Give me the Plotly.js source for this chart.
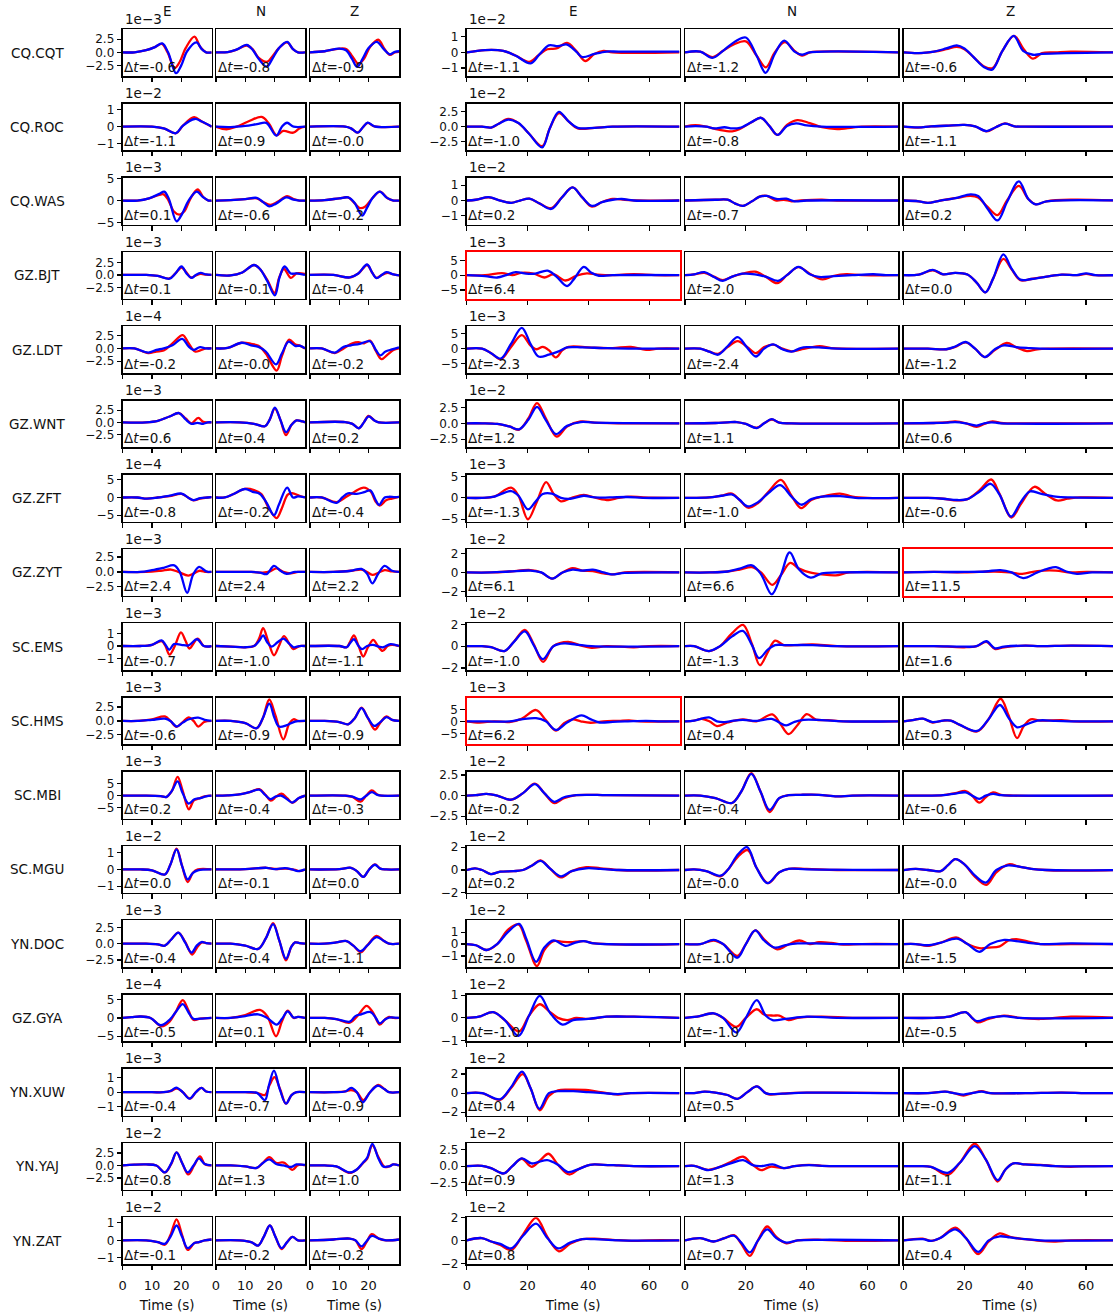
<!DOCTYPE html>
<html>
<head>
<meta charset="utf-8">
<script src="https://cdn.plot.ly/plotly-3.0.1.min.js"></script>
<style>
  html, body { margin: 0; padding: 0; overflow: hidden; background: #fff; }
  #fig { width: 1118px; height: 1315px; }
</style>
</head>
<body>
<div id="fig"></div>
<script>
// Waveform fits: observed (red) vs. synthetic (blue) for each station.
// Each station holds six panels: E, N, Z (short window) then E, N, Z (long window).
// Every panel is a flat list t0,a0,t1,a1,... ; t in seconds, a in units of that
// block's offset (1e-n, shown above the first panel of the block).

const stations = ['CQ.CQT','CQ.ROC','CQ.WAS','GZ.BJT','GZ.LDT','GZ.WNT','GZ.ZFT','GZ.ZYT',
                  'SC.EMS','SC.HMS','SC.MBI','SC.MGU','YN.DOC','GZ.GYA','YN.XUW','YN.YAJ','YN.ZAT'];
const components = ['E','N','Z'];

const obs_CQ_CQT = [
  [0,0, 4,0, 8,0.4, 11,1.0, 13.4,1.6, 15.3,0, 17.8,-3.0, 19.5,-1.8, 21.5,0.8, 24.5,3.0, 26.5,1.0, 28.5,0, 30.4,0],
  [0,0, 4,0.05, 7,0.5, 10.5,1.3, 12.5,0.6, 14.5,-1.0, 17.5,-1.8, 19.5,-0.6, 21.5,0.8, 24.3,1.9, 26.3,0.6, 28,0, 30.4,0],
  [0,0, 5,0.2, 10,0.7, 12.5,0.6, 14.5,-0.8, 16.6,-2.2, 18.5,-1.2, 20.5,1.0, 23.3,2.4, 25.5,0.6, 27.3,-0.5, 29,0, 30.4,0.1],
  [0,0, 6,0.15, 12,0.1, 16,-0.2, 20.5,-0.6, 23.5,-0.2, 26.5,0.2, 29.5,0.25, 33,0.6, 36,0.1, 39,-0.55, 42,-0.1, 45,0.1, 48,0, 70,0],
  [0,0, 5,0.05, 9,-0.3, 12.5,0.1, 16,0.5, 20,0.7, 23.5,-0.2, 26.6,-0.95, 29.5,0, 32.8,0.65, 36,0.1, 38.5,-0.2, 41,0, 44,0.05, 70,0],
  [0,0, 5,-0.05, 10,0.05, 14,0.2, 17.5,0.35, 20,0.2, 23,-0.3, 26.5,-0.9, 29.3,-1.0, 32.5,0.1, 36.3,1.05, 39.5,0.2, 42.5,-0.4, 45.5,-0.05, 50,0, 55,0.05, 70,0]
];
const syn_CQ_CQT = [
  [0,0, 4,0, 8,0.4, 11,1.0, 13.5,1.7, 15.5,0, 18.2,-4.0, 20,-2.5, 22,0.2, 25.2,1.9, 27,0.6, 28.5,0, 30.4,0],
  [0,0, 4,0.05, 7,0.5, 10.5,1.4, 12.5,0.5, 14.5,-1.2, 17.3,-2.75, 19.3,-1.2, 21.5,0.8, 24.3,2.0, 26.3,0.6, 28,0, 30.4,0],
  [0,0, 5,0.2, 10,0.7, 12.3,0.4, 14.3,-1.2, 16.1,-2.8, 18,-1.2, 20,0.8, 22.8,2.0, 25.2,0.6, 27.2,-0.4, 29,0.1, 30.4,0.2],
  [0,0, 6,0.15, 12,0.1, 16,-0.2, 21,-0.7, 24,-0.1, 27,0.45, 30,0.4, 33,0.5, 36,0.05, 38,-0.3, 42,-0.1, 46,0.05, 50,0.05, 70,0.05],
  [0,0, 5,0.05, 9,-0.35, 12.5,0.1, 16.5,0.7, 20,0.95, 23.5,-0.2, 26.5,-1.3, 29.5,-0.1, 32.6,0.75, 36,0.05, 38.5,-0.15, 41,0, 70,0],
  [0,0, 5,-0.05, 10,0.05, 14,0.25, 17.5,0.45, 20,0.25, 23,-0.3, 26.5,-0.95, 29.1,-1.1, 32.5,0.1, 36.2,1.05, 39.3,0.1, 42.5,-0.15, 45.5,-0.1, 70,0]
];

const obs_CQ_ROC = [
  [0,0, 10,0, 14,-0.1, 18.2,-0.38, 20.5,0.05, 24.4,0.55, 27,0.3, 30.4,0],
  [0,0, 3.6,-0.15, 7,0, 11,0.3, 15.6,0.57, 18,0.2, 20.7,-0.5, 23,-0.25, 26.4,-0.35, 28.5,-0.1, 30.4,0],
  [0,0, 12,0, 14,-0.1, 16.3,-0.35, 18,-0.05, 19.7,0.22, 22,0.02, 30.4,0],
  [0,0, 5,0, 8,-0.15, 10.5,0.5, 13.6,1.3, 17,0.6, 20.5,-1.2, 24.8,-3.3, 27.3,-0.3, 30.3,2.3, 33.5,0.9, 36.5,-0.3, 42,-0.2, 48,0, 70,0],
  [0,0, 3.4,0.25, 7,0, 11,-0.5, 15.5,-0.8, 18,-0.4, 22,0.8, 25,1.5, 27.6,0.2, 30.4,-1.4, 33.5,0.3, 36.9,1.1, 41,0.6, 45,-0.1, 50,-0.4, 55,-0.15, 58,0, 70,0],
  [0,0, 4.8,-0.15, 9,0.05, 14,0.15, 20,0.3, 23.5,0.05, 27.3,-0.8, 30.3,-0.1, 33.3,0.55, 36.5,0.05, 40,0, 70,0]
];
const syn_CQ_ROC = [
  [0,0, 10,0, 14,-0.1, 18.2,-0.38, 20.5,0.05, 24.6,0.45, 27,0.3, 30.4,0],
  [0,0, 5,-0.02, 10,0.05, 14,0.15, 17.2,0.22, 20.6,-0.52, 22.5,0, 24.3,0.23, 26.5,0, 30.4,0],
  [0,0, 12,0, 14,-0.1, 16.3,-0.35, 18,-0.05, 19.7,0.24, 22,0.02, 30.4,0],
  [0,0, 5,0, 8,-0.15, 10.5,0.5, 13.6,1.2, 17,0.6, 20.5,-1.2, 24.8,-3.5, 27.3,-0.3, 30.3,2.5, 33.5,0.9, 36.5,-0.2, 42,-0.2, 48,0, 70,0],
  [0,0, 3.4,0.1, 7,0, 9.5,-0.3, 13,-0.1, 15.5,-0.3, 18,-0.2, 22,0.8, 25,1.5, 27.6,0.2, 30.4,-1.4, 33.5,0.1, 36.5,0.55, 40,0.2, 45,0, 70,0],
  [0,0, 4.8,-0.12, 9,0.05, 14,0.15, 20,0.3, 23.5,0.05, 27.3,-0.75, 30.3,-0.1, 33.3,0.5, 36.5,0.05, 40,0, 70,0]
];

const obs_CQ_WAS = [
  [0,0, 5,0, 9,0.5, 12.5,1.3, 14,1.4, 15.5,0.2, 17.5,-2.5, 19.3,-3.2, 21,-2.5, 23.2,0.5, 25.6,2.5, 27.5,0.8, 29.3,0, 30.4,0],
  [0,0, 5,0.1, 10,0.3, 13.9,0.5, 16,-0.3, 18.6,-1.0, 21,-0.3, 24.3,1.0, 26.5,0.3, 28.5,0, 30.4,0],
  [0,0, 5,0.1, 10,0.5, 13,0.7, 14.8,-0.3, 17,-1.7, 18.8,-1.4, 21,0.3, 23.9,2.0, 26.5,0.5, 28.5,0, 30.4,0],
  [0,0, 3,0.05, 7.2,0.2, 11,0, 14.6,-0.15, 17.5,0, 20.6,0.12, 24,-0.2, 27.8,-0.5, 31.3,0.2, 34.8,0.85, 38,0.2, 41.2,-0.4, 44.5,-0.1, 48,0.1, 52,0.05, 56,0, 70,0],
  [0,0, 10,0.05, 14,0.05, 16.5,-0.2, 19.1,-0.35, 22,-0.05, 24.5,0.25, 26.9,0.3, 30,0, 32.5,0.05, 35,-0.05, 38,0, 45,0.05, 50,0, 70,0],
  [0,0, 5,-0.05, 8,-0.15, 12,0, 17,0.15, 22,0.3, 24.5,0.2, 27.5,-0.4, 30.9,-0.95, 34,0, 37.9,0.95, 41,0.1, 43.5,-0.25, 47,-0.05, 55,0.05, 70,0]
];
const syn_CQ_WAS = [
  [0,0, 5,0, 9,0.5, 12.5,1.5, 14.2,2.0, 15.8,0.3, 18.4,-4.7, 20.3,-3.0, 22.5,0, 25.3,2.0, 27.4,0.8, 29.3,0, 30.4,0],
  [0,0, 5,0.1, 10,0.3, 13.9,0.6, 16,-0.3, 18.2,-1.3, 20.5,-0.7, 24,0.7, 26.5,0.2, 28.5,0, 30.4,0],
  [0,0, 5,0.1, 10,0.5, 13,0.7, 15.2,-0.5, 17.8,-3.4, 19.5,-1.6, 21.3,0.5, 23.8,2.0, 26.3,0.6, 28.5,0, 30.4,0],
  [0,0, 3,0.05, 7.2,0.22, 11,0, 14.6,-0.15, 17.5,0, 20.6,0.12, 24,-0.2, 27.8,-0.55, 31.3,0.2, 34.8,0.85, 38,0.2, 41.2,-0.35, 44.5,-0.1, 48,0.05, 51,0.1, 55,0, 70,0],
  [0,0, 10,0.05, 14,0.05, 16.5,-0.2, 19.1,-0.35, 22,-0.05, 24.5,0.25, 26.9,0.3, 30,0.1, 33.3,0.12, 36,-0.05, 40,0, 70,0],
  [0,0, 5,-0.05, 8,-0.15, 12,0, 17,0.15, 22,0.4, 24.5,0.3, 27.5,-0.5, 30.9,-1.3, 34,-0.1, 37.9,1.25, 41,0.1, 43.5,-0.25, 47,-0.05, 70,0]
];

const obs_GZ_BJT = [
  [0,0, 8,0, 12,-0.2, 16,-0.7, 18,0.3, 20.1,1.5, 21.8,0.5, 23.3,-0.5, 25,-0.1, 26.6,0.2, 28.5,0.05, 30.4,0],
  [0,0, 5,-0.1, 9,0.5, 13,2.0, 15,1.2, 17.5,-1.0, 20,-3.6, 21.6,-0.5, 23.2,1.2, 25.6,-0.6, 27.5,0.3, 30.4,0.2],
  [0,0, 8,0, 13.6,-0.5, 16.5,0.3, 19.5,2.0, 21.2,0.5, 22.7,-0.6, 24.5,0, 26.5,0.4, 28.5,0.1, 30.4,-0.1],
  [0,0, 6,0, 11.6,0.7, 15,0, 18,0.8, 22,0.5, 25.5,-0.8, 28.5,0.3, 32.5,-1.8, 36,-0.2, 39.5,0.6, 43,0.2, 48,0, 55,0.3, 62,0, 70,0],
  [0,0, 3,0.3, 6.4,0.8, 9.5,-0.5, 12.4,-1.7, 15.5,-0.5, 19,0.5, 23,1.2, 26.5,-0.5, 30.3,-2.7, 33.5,0, 37.3,2.7, 41,0.5, 45.2,-1.4, 49,-0.2, 53,0.3, 58,0, 70,0],
  [0,0, 5,0.2, 9.6,1.6, 13,0.3, 17,0.8, 21,0.2, 24,-2.5, 26.9,-5.8, 29.5,-1.0, 32.8,5.5, 35.5,2.0, 38.4,-1.7, 42,-1.3, 47,-0.5, 52,0.2, 57,0, 60,0.4, 63,0, 70,0]
];
const syn_GZ_BJT = [
  [0,0, 8,0, 12,-0.2, 16,-0.75, 18,0.3, 20.1,1.7, 21.8,0.3, 23.5,-0.6, 25,0, 26.6,0.4, 28.5,0.1, 30.4,0],
  [0,0, 5,-0.1, 9,0.5, 13,2.0, 15,1.2, 17.5,-1.2, 20.1,-4.1, 21.7,-0.5, 23.4,1.7, 25.5,0.3, 27.5,0.3, 30.4,0],
  [0,0, 8,0, 13.6,-0.5, 16.5,0.3, 19.5,2.1, 21.2,0.5, 22.7,-0.65, 24.5,0, 26.1,0.55, 28.5,0.1, 30.4,-0.1],
  [0,0, 6,-0.3, 10,-0.8, 13,0, 16.1,1.0, 19.5,0.5, 22.5,0.5, 26.6,1.5, 29.5,-0.5, 33,-3.7, 35.5,-1.0, 38.5,2.8, 41,0.8, 43.5,-0.2, 48,0, 70,0],
  [0,0, 3,0.3, 6.4,1.0, 9.5,-0.6, 12.4,-1.9, 15.5,-0.5, 19,0.5, 23,0.3, 26.5,-0.5, 30.6,-1.9, 33.5,0, 37.3,2.8, 41,0.3, 44,-0.6, 49,-0.3, 55,0, 62,0.3, 66,0, 70,0],
  [0,0, 5,0.2, 9.6,1.8, 13,0.3, 17,0.8, 21,0.2, 24,-2.5, 26.9,-5.8, 29.5,-1.0, 32.8,7.0, 35.5,2.2, 38.4,-1.5, 42,-1.3, 47,-0.5, 52,0.2, 57,0, 60,0.6, 63,0, 70,0]
];

const obs_GZ_LDT = [
  [0,0, 4,0, 8.7,-0.9, 11.5,-0.6, 14,-0.4, 17,1.0, 20.5,2.6, 22.5,1.0, 24.7,-0.6, 26.5,-0.4, 28.5,0, 30.4,0],
  [0,0, 4,0.1, 8.8,1.1, 12,0.9, 14.5,0.5, 17,-1.0, 20.7,-4.3, 22.5,-1.5, 25,1.7, 27,0.8, 28.8,0.5, 30.4,0],
  [0,0, 4,0, 8.5,-0.9, 11.5,0, 14.5,1.0, 16.5,1.2, 18.5,1.0, 20.5,1.5, 22.5,-0.5, 24.4,-2.1, 26.5,-1.2, 28.5,-0.3, 30.4,0],
  [0,0, 5,0, 8,-1.5, 11.2,-3.5, 14.5,0.5, 18.1,4.5, 21,1.0, 23,-0.2, 25,0.6, 27,-0.5, 29.3,-2.9, 31.5,-0.5, 33.5,0.6, 38,0.6, 42,0.3, 48,0.2, 54,0.6, 59,-0.4, 63,0, 70,0],
  [0,0, 5,0, 8,-1.0, 10.9,-1.7, 14,0.5, 17.3,2.5, 20.5,0.5, 23.3,-1.5, 26,0.5, 29,1.3, 32,0, 35,-0.9, 38,-0.3, 41,0.3, 44.3,0.8, 48,0.2, 52,0, 70,0],
  [0,0, 8,0, 14,-0.2, 17,0.6, 20.4,2.1, 23.5,0, 26.7,-2.8, 30,-0.5, 33.9,1.9, 37,0.5, 40.6,-0.8, 44,-0.2, 48,0, 70,0]
];
const syn_GZ_LDT = [
  [0,0, 4,0, 8.7,-0.8, 11.5,-0.3, 14,0, 17,0.6, 20.3,1.85, 22.5,0.4, 24.2,-0.3, 26.4,0.25, 28.5,0, 30.4,0],
  [0,0, 4,0.1, 8.8,1.1, 12,0.6, 14.5,0.3, 17,-0.6, 20.5,-3.1, 22.5,-1.0, 24.8,1.3, 27,0.5, 28.8,0.5, 30.4,0],
  [0,0, 4,0, 8.5,-0.8, 11.5,0.3, 14,0.6, 17,0.9, 20.5,1.4, 22.5,-0.3, 24,-1.35, 25.8,-0.6, 28,-0.2, 30.4,0.2],
  [0,0, 5,0, 8,-1.5, 11.2,-3.3, 14.5,1.5, 18.1,6.9, 21,1.5, 23.6,-2.6, 27,-2.0, 30,-1.0, 33,0.4, 38,0.4, 45,0.2, 55,0, 70,0],
  [0,0, 5,0, 8,-1.0, 10.9,-2.0, 14,0.8, 17.3,3.8, 20.3,0.5, 23.3,-2.6, 26,0, 29,1.4, 32,-0.2, 35,-1.0, 38,0.2, 40,0.5, 44,0.4, 50,0, 70,0],
  [0,0, 8,0, 14,-0.2, 17,0.7, 20.4,2.2, 23.5,0, 26.7,-2.8, 30,-0.2, 33,1.1, 37,0.5, 41,0.2, 45,0, 70,0]
];

const obs_GZ_WNT = [
  [0,0, 8,0, 12,0.3, 16,1.2, 19.2,1.9, 21.5,0.8, 23.5,-0.2, 25.8,0.9, 27.5,0.1, 29,0, 30.4,0],
  [0,0, 8,0, 13,-0.3, 16.7,-0.8, 18.3,0.5, 20.1,2.8, 22,0.5, 23.9,-2.6, 25.8,-0.5, 27.5,0.4, 29.5,0.2, 30.4,0],
  [0,0, 12,0.05, 14.5,-0.3, 16.7,-1.2, 18.4,0, 20,1.3, 22,0.4, 23.5,0, 30.4,0],
  [0,0, 5,0, 10,-0.1, 14,-0.5, 17.2,-1.0, 20.3,0.8, 23.1,3.2, 26,0.8, 29.6,-2.1, 33,-0.5, 37.5,0.3, 42,0.1, 50,0, 70,0],
  [0,0, 10,0.05, 14,0.15, 17,0.2, 20,-0.1, 23.6,-0.7, 26,0, 28.5,0.6, 31,0.1, 35,0, 70,0],
  [0,0, 10,0.05, 14,0.15, 17,0.3, 20.5,0, 24,-0.55, 26.5,-0.1, 29.2,0.3, 32,0.05, 35,0, 70,0]
];
const syn_GZ_WNT = [
  [0,0, 8,0, 12,0.3, 16,1.2, 19.2,1.9, 21.5,0.6, 23.5,-0.3, 25.5,-0.1, 27.5,-0.3, 29,0, 30.4,0],
  [0,0, 8,0, 13,-0.3, 16.7,-0.8, 18.3,0.5, 20.1,3.0, 22,0.5, 23.9,-2.0, 25.8,-0.5, 27.5,0.4, 29.5,0.2, 30.4,0],
  [0,0, 12,0.05, 14.5,-0.3, 16.7,-1.2, 18.4,0, 20,1.2, 22,0.4, 23.5,0, 30.4,0],
  [0,0, 5,0, 10,-0.1, 14,-0.5, 17.2,-0.95, 20.3,0.6, 23.1,2.6, 26,0.5, 29.4,-1.7, 33,-0.4, 37.5,0.2, 42,0.1, 70,0],
  [0,0, 10,0.05, 14,0.15, 17,0.2, 20,-0.1, 23.6,-0.75, 26,0, 28.5,0.65, 31,0.1, 35,0, 70,0],
  [0,0, 10,0.05, 14,0.1, 17,0.2, 20.5,0, 24,-0.35, 26.5,0, 29,0.15, 32,0, 70,0]
];

const obs_GZ_ZFT = [
  [0,0, 5,0, 8.2,-0.3, 12,0, 16,0.4, 20.1,1.0, 22.3,0, 24.1,-0.8, 26.5,-0.3, 29,0, 30.4,0.1],
  [0,0, 3,0, 6,1.0, 9.9,2.45, 13,2.1, 15.5,1.0, 18,-3.0, 20.7,-5.8, 22.5,-3.0, 24.5,0.8, 26,1.2, 28.5,0.5, 30.4,0],
  [0,0, 4,0, 9.1,-1.3, 12,0, 15,1.5, 18.4,2.8, 20.8,1.6, 22.3,-1.0, 23.8,-2.3, 26,-0.8, 28,-0.3, 30.4,0.2],
  [0,0, 5,0, 9,0.3, 14.6,2.4, 17,0.5, 20.1,-5.0, 23,-1.0, 26.1,3.7, 28.5,1.0, 31,-0.8, 34.5,0, 38.5,0.7, 42.5,0, 46.7,-0.5, 50,0, 54,0.3, 58,0.1, 70,0],
  [0,0, 8,0.1, 12,0.5, 15.4,1.0, 18,-0.5, 20.8,-2.3, 24,-1.2, 27.5,1.5, 31.5,4.2, 35,0.5, 38.2,-2.4, 41.5,-0.5, 45,0.3, 50.9,1.0, 55,0.3, 60,0, 70,0],
  [0,0, 8,0, 13,-0.2, 17.6,-0.6, 21,-0.3, 25,1.8, 28.8,4.3, 31.5,1.0, 35.5,-4.6, 38.5,-1.5, 43,2.6, 46.5,1.0, 50.4,-0.6, 54,-0.2, 58,0.1, 70,0]
];
const syn_GZ_ZFT = [
  [0,0, 5,0, 8.2,-0.3, 12,0, 16,0.5, 20.1,1.1, 22.3,0, 24.1,-0.75, 26.5,-0.2, 29,0, 30.4,0.1],
  [0,0, 3,0, 6,1.0, 9.9,2.4, 12.5,1.6, 15,1.0, 17.3,-1.5, 19.8,-5.0, 21.5,-2.0, 24.3,2.8, 26.3,0, 28,0.3, 30.4,0],
  [0,0, 4,0, 9.1,-1.5, 11,0, 13,1.2, 16,1.0, 18.5,1.5, 20.6,2.0, 22.3,-0.5, 23.6,-2.1, 25.5,0, 27,0.2, 29,0.1, 30.4,0.2],
  [0,0, 5,0, 9,0.3, 14.6,1.6, 17,0.5, 20.1,-2.7, 22.5,-1.0, 25,0.9, 28,1.0, 31,0, 34,-0.2, 38.5,0.5, 42,0.1, 47,0.1, 53,0.2, 58,0, 70,0],
  [0,0, 8,0.1, 12,0.5, 15.4,0.8, 18,-0.5, 20.6,-2.0, 24,-1.0, 27.5,1.2, 31.3,3.0, 35,0.3, 38.2,-1.6, 41.5,-0.3, 45,0.3, 51,0.4, 56,0, 70,0],
  [0,0, 8,0, 13,-0.2, 17.6,-0.5, 21,-0.3, 25,1.5, 28.6,3.3, 31.5,0.8, 35.3,-4.4, 38.5,-1.0, 41.5,1.5, 45,1.0, 50,0.3, 55,0.1, 70,0]
];

const obs_GZ_ZYT = [
  [0,0, 8,0, 13,0.2, 16.5,0.4, 19,0, 22.4,-0.6, 24.5,-0.2, 26.3,0.2, 28.5,0, 30.4,0],
  [0,0, 12,0, 16,-0.1, 18.5,0.1, 20.7,0.6, 23,0, 25.5,-0.25, 28,0, 30.4,0],
  [0,0, 8,0, 14,0.2, 17.6,0.4, 19.5,0, 21.3,-0.5, 23.5,-0.1, 25.5,0.3, 28,0.1, 30.4,0],
  [0,0, 8,0, 14,0.1, 21,0.25, 24.5,0, 28.1,-0.65, 31.5,0, 34.8,0.45, 38,0.2, 41.5,0.15, 45,-0.1, 48,-0.2, 52,0, 70,0],
  [0,0, 8,0, 14,0.1, 18,0.3, 22,0.55, 25,0, 28.7,-1.3, 31.5,-0.3, 34.6,1.0, 37.5,0.4, 41,0, 45,-0.2, 49.6,-0.3, 54,0, 70,0],
  [0,0, 10,0.05, 20,0, 30,0.1, 35,0, 39,-0.15, 44,0.15, 50,0.2, 55,0, 60,0.05, 70,0]
];
const syn_GZ_ZYT = [
  [0,0, 6,0, 10,0.3, 14,0.7, 17.6,1.1, 19.5,0, 22,-3.5, 24,-0.5, 26.1,0.85, 28.5,0.1, 30.4,0],
  [0,0, 12,0, 15,-0.1, 17.3,-0.35, 19.8,1.0, 22,0.2, 24.1,-0.3, 27,0, 30.4,0],
  [0,0, 8,0, 14,0.2, 17.6,0.5, 19.5,-0.3, 21.3,-1.9, 23.3,-0.3, 25.5,1.0, 28,0.2, 30.4,0],
  [0,0, 8,0, 14,0.1, 21,0.2, 24.5,0, 28.1,-0.65, 31.5,0, 34.8,0.3, 38,0.2, 41.5,0.3, 45,0, 47.5,-0.2, 52,-0.05, 70,0],
  [0,0, 8,0, 14,0.1, 18,0.4, 22,0.75, 25,-0.2, 28.5,-2.3, 31.5,-0.3, 34.4,2.1, 37.5,0.3, 41.3,-0.55, 45,-0.1, 50,0, 70,0],
  [0,0, 10,0.05, 20,0.05, 27,0.1, 31.8,0.25, 35.5,0, 39.3,-0.6, 44,0, 47.5,0.4, 50.1,0.55, 53.5,0.1, 57,-0.15, 62,0, 70,0]
];

const obs_SC_EMS = [
  [0,0, 6,0, 10,0.1, 13.3,0.4, 14.6,0, 16,-0.7, 17.8,0, 19.9,1.1, 21.5,0.4, 22.8,-0.2, 25.6,0.6, 27.7,0, 30.4,0],
  [0,0, 5,-0.05, 10,-0.1, 13,0, 14.7,0.6, 16.1,1.45, 17.8,0.4, 19.8,-0.75, 21.5,0, 23.2,0.8, 25,0.2, 26.4,-0.25, 28.5,0, 30.4,0],
  [0,0, 10,0, 12.5,-0.1, 13.6,0.3, 15,0.85, 16.6,0, 18.2,-0.85, 19.8,-0.1, 21.6,0.5, 23.2,0, 24.8,-0.4, 26.5,0, 28,0.1, 30.4,0],
  [0,0, 5,0, 8,-0.1, 12.4,-0.45, 15.5,0.4, 19.1,1.5, 22,0.2, 25.1,-1.45, 28.5,0, 33.3,0.4, 37,0.1, 41,-0.15, 46,0, 55,-0.1, 60,0, 70,0],
  [0,0, 3,0, 7.9,-0.45, 11.5,0, 15.5,1.2, 19.1,1.95, 22,0.2, 24.6,-1.75, 27.3,-0.5, 29.6,0.5, 32.5,0.1, 36,0.1, 42,0.15, 50,0, 70,0],
  [0,0, 10,0, 20,-0.1, 24,0, 27.2,0.4, 30,-0.25, 33,-0.1, 40,0.05, 45,0, 55,0.05, 70,0]
];
const syn_SC_EMS = [
  [0,0, 6,0, 10,0.1, 13.3,0.45, 14.6,0.1, 15.9,-0.3, 17.5,0.15, 20,0.1, 22.5,0.05, 25.4,0.55, 27.7,0, 30.4,0],
  [0,0, 5,-0.05, 10,-0.1, 13,0, 14.7,0.4, 16.1,0.85, 17.5,0.3, 19,-0.05, 21,0.3, 23,0.6, 25,0.2, 26.5,-0.1, 28.5,0, 30.4,0],
  [0,0, 10,0, 12.5,-0.1, 13.6,0.2, 15,0.55, 16.6,0, 17.8,-0.25, 19.5,0, 21.5,0.1, 23.5,-0.05, 25,-0.1, 27.5,0.15, 30.4,0],
  [0,0, 5,0, 8,-0.1, 12.4,-0.45, 15.5,0.4, 19.1,1.35, 22,0.1, 25,-1.2, 28.5,0, 32,0.25, 36,0.15, 41,0, 50,-0.05, 70,0],
  [0,0, 3,0, 7.9,-0.45, 11.5,0, 15.5,0.9, 19,1.4, 22,0.1, 24.3,-1.1, 27.3,-0.3, 29.6,0.1, 33,0.1, 42,0.1, 50,0, 70,0],
  [0,0, 10,0, 20,-0.05, 24,0, 27.2,0.45, 30,-0.2, 33,-0.05, 40,0.05, 45,0, 55,0.05, 70,0]
];

const obs_SC_HMS = [
  [0,0, 5,0, 10,0.3, 14.4,0.8, 16.3,0, 18.4,-1.05, 20.5,-0.2, 22.6,0.65, 24.2,0, 25.8,-1.0, 27.8,-0.2, 30.4,0],
  [0,0, 5,0, 10,-0.4, 13.9,-1.3, 16,0.5, 18.2,3.85, 20.3,1.0, 23,-3.3, 25,-0.5, 26.5,0.3, 28,0, 30.4,0],
  [0,0, 5,0, 10,-0.2, 13,-0.6, 15.3,0.5, 17.6,2.4, 19.8,0.5, 22.2,-1.55, 24,-0.3, 26.1,0.8, 28,0.2, 30.4,0],
  [0,0, 4.2,-0.5, 9,0, 14,-0.3, 18,1.0, 22.8,4.7, 26,0.5, 29.3,-3.9, 32,-0.8, 34.8,0.8, 37.5,0, 40.7,-0.6, 45,0, 50,0.2, 53.4,0.4, 57,0, 70,0],
  [0,0, 3,0.3, 5.5,1.0, 8,0, 10.5,-2.0, 14,-0.5, 19,0.8, 23.5,0, 28.7,2.9, 31.3,-1.0, 34,-5.3, 37,-1.5, 40,3.0, 43,0.7, 47,0.5, 52,0, 70,0],
  [0,0, 3,0.5, 6.3,1.1, 9.5,-0.5, 13,0.3, 15.5,0.3, 18.5,-1.5, 24.2,-4.2, 28,1.0, 31.9,9.4, 34.5,2.5, 37.3,-7.0, 39.5,-2.0, 41.8,0.8, 45,0.3, 52,0.5, 56,0, 70,0]
];
const syn_SC_HMS = [
  [0,0, 5,0, 10,0.2, 14.4,0.4, 16.3,0, 18.4,-1.0, 20.5,-0.3, 22.6,0.3, 25.8,0.6, 28,0.2, 30.4,0],
  [0,0, 5,0, 10,-0.4, 13.9,-1.3, 16,0.5, 18.2,3.1, 20,0.5, 21.5,-1.0, 24,-0.8, 27,-0.1, 30.4,0],
  [0,0, 5,0, 10,-0.2, 13,-0.6, 15.3,0.5, 17.6,2.3, 19.8,0.5, 22,-0.9, 24,-0.2, 26.1,0.7, 28,0.2, 30.4,0],
  [0,0, 5,0, 9,-0.1, 14,0, 18,0.8, 22.8,1.3, 26,0, 29.3,-3.6, 33,-0.5, 37.8,2.5, 40.5,1.0, 43.7,-0.5, 48,-0.2, 53,0, 59,0.2, 64,0, 70,0],
  [0,0, 3,0.3, 7.9,1.6, 10.5,0, 13,-0.3, 16,0.3, 19,0.6, 23.5,0.2, 28.5,1.0, 31,-0.5, 33.3,-1.7, 36,-0.2, 39,0.6, 45,0.5, 52,0, 70,0],
  [0,0, 3,0.5, 6.3,1.1, 9.5,-0.3, 13,0.3, 15.5,0.3, 18.5,-1.5, 24.2,-4.0, 28,1.0, 31.7,6.8, 34.5,1.5, 37.3,-2.5, 40,-1.5, 44,0.3, 50,0.2, 56,0, 70,0]
];

const obs_SC_MBI = [
  [0,0, 8,0, 13,-0.2, 15,-0.5, 16.8,2.0, 18.75,7.9, 20.5,2.0, 22.6,-5.7, 24.3,-2.0, 26,-1.2, 28,-0.3, 30.4,0],
  [0,0, 4,0.1, 8,0.5, 11.5,1.5, 14.8,2.7, 16.8,0.5, 18.75,-2.1, 20.5,-0.5, 22.4,0.8, 24.3,-1.0, 26.1,-3.0, 28.3,-1.0, 30.4,0],
  [0,0, 12,0, 14.5,-0.5, 17.3,-2.5, 19.2,0, 21.1,2.2, 23,0.5, 24.5,0, 30.4,0],
  [0,0, 3,0.05, 6.4,0.2, 10,0, 14.6,-0.5, 18.5,0.3, 22.4,1.45, 25.5,0.3, 28.8,-0.9, 32,-0.3, 36,0.05, 40,0.1, 46,0.05, 70,0],
  [0,0, 5,0, 10,-0.3, 15.4,-0.9, 18.5,0.5, 21.8,2.75, 24.8,0.5, 27.8,-2.0, 31,-0.3, 34,0.05, 38,0.1, 44,0.1, 50,-0.1, 55,0, 70,0],
  [0,0, 8,0, 13,0.05, 17,0.3, 20.4,0.55, 22.5,0, 24.9,-0.85, 27,-0.2, 29.4,0.4, 32,0.1, 36,0, 70,0]
];
const syn_SC_MBI = [
  [0,0, 8,0, 13,-0.2, 15,-0.5, 16.8,2.0, 18.75,6.0, 20.5,1.0, 22.5,-3.3, 24.5,-1.5, 26.5,-1.0, 28.5,-0.3, 30.4,0],
  [0,0, 4,0.1, 8,0.5, 11.5,1.5, 14.8,2.5, 16.8,0.3, 18.5,-1.4, 20.5,-0.3, 22.2,0, 24.3,-1.5, 26,-2.9, 28.3,-1.0, 30.4,0],
  [0,0, 12,0, 14.5,-0.4, 17.3,-1.6, 19.2,0, 21.1,1.5, 23,0.3, 24.5,0, 30.4,0],
  [0,0, 3,0.05, 6.4,0.2, 10,0, 14.6,-0.5, 18.5,0.3, 22.4,1.4, 25.5,0.3, 28.8,-0.75, 32,-0.2, 36,0.05, 40,0.1, 46,0.05, 70,0],
  [0,0, 5,0, 10,-0.3, 15.4,-0.9, 18.5,0.5, 21.8,2.65, 24.8,0.5, 27.8,-1.75, 31,-0.3, 34,0.05, 38,0.1, 44,0.1, 50,-0.1, 55,0, 70,0],
  [0,0, 8,0, 13,0.05, 17,0.25, 20.4,0.4, 22.5,0, 24.9,-0.4, 27,0, 29.4,0.2, 32,0.05, 36,0, 70,0]
];

const obs_SC_MGU = [
  [0,0, 6,0, 10,-0.05, 14.4,-0.3, 16.3,0.3, 18.4,1.25, 20.3,0.2, 22.2,-0.75, 24,-0.2, 25.7,0, 30.4,0],
  [0,0, 10,0.02, 17.3,0.1, 20,0.03, 24,0.05, 27,-0.02, 28.5,-0.1, 30.4,0],
  [0,0, 10,0.02, 14,0.1, 16,-0.1, 18.2,-0.45, 20.2,0, 22.2,0.3, 24,0.05, 26,0, 30.4,0],
  [0,0, 2.7,0.15, 5,0, 7.9,-0.35, 11,-0.15, 15.4,-0.1, 18.5,0, 21.5,0.4, 24.3,0.85, 27.5,0.1, 31,-0.65, 34.5,-0.1, 39.3,0.25, 44,0.15, 50,0, 56,-0.05, 70,0],
  [0,0, 3,0.05, 7,-0.1, 11.6,-0.55, 14,0, 17.5,1.2, 20.6,1.75, 23.5,0.2, 27.3,-1.15, 31,-0.2, 34,0.1, 40,0.1, 50,0, 70,0],
  [0,0, 4,0.1, 8,0, 12.2,-0.1, 14.5,0.4, 17,0.95, 20,0.5, 23.5,-0.6, 27.2,-1.3, 30.5,-0.2, 34.6,0.5, 38,0.3, 42,0.1, 46.6,0, 52,-0.05, 70,0]
];
const syn_SC_MGU = [
  [0,0, 6,0, 10,-0.05, 14.4,-0.3, 16.3,0.3, 18.4,1.2, 20.3,0.2, 22.2,-0.6, 24,-0.2, 25.7,-0.05, 30.4,0],
  [0,0, 10,0.02, 17.3,0.1, 20,0.02, 23.6,0.08, 26,0, 28,-0.1, 30.4,0],
  [0,0, 10,0.02, 14,0.1, 16,-0.1, 18.2,-0.45, 20.2,0, 22.2,0.28, 24,0.05, 26,0, 30.4,0],
  [0,0, 2.7,0.15, 5,0, 7.9,-0.35, 11,-0.15, 15.4,-0.1, 18.5,0, 21.5,0.4, 24.3,0.8, 27.5,0.1, 31,-0.55, 34.5,-0.1, 39.3,0.15, 44,0.1, 50,0, 70,0],
  [0,0, 3,0.05, 7,-0.1, 11.6,-0.5, 14,0, 17.5,1.4, 20.4,2.0, 23.5,0.2, 27.1,-1.15, 31,-0.2, 34,0.1, 40,0.05, 70,0],
  [0,0, 4,0.1, 8,0, 12.2,-0.1, 14.5,0.4, 17,0.95, 20,0.5, 23.5,-0.5, 27,-1.1, 30.5,0, 34.3,0.4, 38,0.3, 42,0.1, 47,0, 70,0]
];

const obs_YN_DOC = [
  [0,0, 8,0, 12,-0.1, 14.4,-0.3, 16.5,0.6, 19,1.7, 21.3,0.3, 23.75,-1.65, 25.5,-0.5, 27,0.2, 28.5,0.1, 30.4,0],
  [0,0, 5,0, 10,-0.3, 14.4,-0.8, 17,0.8, 19.5,3.15, 21.6,0.5, 23.9,-2.55, 25.7,-0.5, 27,0.2, 28.5,0.1, 30.4,0],
  [0,0, 5,0, 9,0.2, 12.5,0.4, 14.8,-0.3, 17.3,-1.3, 19.5,-0.3, 22.7,1.2, 25,0.5, 27,0, 30.4,0],
  [0,0, 3,-0.1, 6.5,-0.5, 10,0, 13.5,1.2, 17,1.65, 19.5,0.3, 23.1,-1.85, 25.5,-0.5, 28.5,0.25, 31,0.2, 34,0.15, 38.5,0.25, 42,0.05, 46,0, 60,-0.05, 70,0],
  [0,0, 5,0, 9.4,0.3, 12.5,0, 17.2,-1.0, 20,0, 23.1,1.15, 26,0.4, 30.3,-0.45, 33.5,-0.1, 37.6,0.3, 41,0, 44,0.15, 48,0.1, 52,-0.05, 58,0, 70,0],
  [0,0, 4,0, 7.8,-0.15, 12,0.1, 17.5,0.55, 21,0, 24.9,-0.35, 28,-0.3, 31.6,-0.2, 34.5,0.3, 37.6,0.4, 41,0.2, 45,0, 55,0, 70,0]
];
const syn_YN_DOC = [
  [0,0, 8,0, 12,-0.1, 14.4,-0.3, 16.5,0.6, 19,1.7, 21.3,0.2, 23.5,-1.35, 25.3,-0.3, 26.9,0.25, 28.5,0.1, 30.4,0],
  [0,0, 5,0, 10,-0.3, 14.4,-0.8, 17,0.8, 19.5,3.0, 21.6,0.5, 23.9,-2.3, 25.7,-0.5, 27,0.2, 28.5,0.1, 30.4,0],
  [0,0, 5,0, 9,0.2, 12.5,0.4, 14.8,-0.3, 17.3,-1.15, 19.5,-0.3, 22.7,1.0, 25,0.5, 27,0, 30.4,0],
  [0,0, 3,-0.1, 6.5,-0.5, 10,0, 13.5,1.0, 17.2,1.7, 19.5,0.5, 22.8,-1.5, 25.5,-0.3, 28.5,0.3, 32.5,-0.15, 35.5,0.1, 38.5,0.25, 42,0.05, 70,0],
  [0,0, 5,0, 9.4,0.35, 12.5,0, 17.2,-1.15, 20,0, 23.1,1.15, 26,0.3, 29.5,-0.3, 33,-0.1, 37,0.05, 42,0.05, 50,0, 70,0],
  [0,0, 4,0, 7.8,-0.1, 12,0.1, 17.5,0.45, 21,0, 24.9,-0.65, 28.5,0, 33.1,0.35, 37,0.25, 41,0.1, 45,0, 55,0.05, 70,0]
];

const obs_GZ_GYA = [
  [0,0, 3,0.2, 6,0.4, 9.5,0, 13.3,-2.3, 16,-1.0, 18,1.5, 20.5,4.9, 22.5,2.0, 24.1,-0.5, 26.5,-0.2, 30.4,0],
  [0,0, 5,0, 10,0.8, 15,2.2, 17.5,0.5, 20.5,-5.0, 22.5,-1.0, 24.5,2.0, 26.5,0, 28,0.3, 30.4,0],
  [0,0, 5,0, 9,-0.3, 13.6,-1.3, 16.5,0.8, 19.3,3.3, 21.5,1.5, 23.8,-1.8, 25.5,-0.5, 27,0.3, 28.5,0, 30.4,0],
  [0,0, 4,0.05, 8.7,0.25, 12.5,-0.1, 17.2,-0.6, 20.5,0.1, 24,0.6, 27,0.3, 30,0, 33,-0.1, 36,0, 40,-0.05, 46,0.05, 55,0.05, 70,0],
  [0,0, 4,0.05, 9.4,0.2, 12.5,0, 16.9,-0.4, 20,0, 23.6,0.38, 26,0.15, 29,0.1, 31,0.1, 34,-0.1, 37,0, 45,0.05, 55,0, 70,0],
  [0,0, 10,0, 15,0.05, 20.4,0.25, 22.5,0, 24.2,-0.2, 28,-0.05, 33,0.1, 38,0, 45,-0.05, 55,0.05, 70,0]
];
const syn_GZ_GYA = [
  [0,0, 3,0.2, 6,0.4, 9.5,0, 13,-2.0, 16,-0.5, 18,1.5, 20.5,3.8, 22.5,1.5, 24.1,-0.2, 26.5,-0.2, 30.4,0],
  [0,0, 5,0, 10,0.5, 14.4,1.0, 17.5,0, 20.7,-1.8, 22.5,-0.3, 24.5,1.8, 26.5,0.1, 28,0.3, 30.4,0],
  [0,0, 5,0, 9,-0.3, 13.6,-1.0, 15.5,0.5, 17.5,1.0, 20.7,1.6, 22.5,0, 23.8,-1.5, 25.5,-0.5, 27,0.1, 30.4,0],
  [0,0, 4,0.05, 8.7,0.25, 12.5,-0.1, 17,-0.8, 20.5,0.1, 24,0.97, 27.5,0.2, 31.5,-0.3, 35,-0.1, 40,-0.05, 46,0.05, 55,0.05, 70,0],
  [0,0, 4,0.05, 9.4,0.2, 12.5,0, 16.9,-0.65, 20,0, 23.6,0.78, 26.5,0.1, 28.8,-0.1, 33,-0.05, 40,0.05, 50,0, 70,0],
  [0,0, 10,0, 15,0.05, 20.4,0.25, 22.5,0, 24.2,-0.15, 28,0, 33,0.08, 38,0, 70,0]
];

const obs_YN_XUW = [
  [0,0, 10,0, 14,0, 16,0.05, 18.6,0.25, 20.5,0, 23,-0.45, 25,0, 26.9,0.3, 28.5,0.05, 30.4,0],
  [0,0, 10,0, 14,-0.05, 16.7,-0.2, 18.3,0.5, 20,1.05, 21.9,0.2, 23.9,-0.8, 25.8,-0.2, 27.5,0, 30.4,0],
  [0,0, 8,0, 12,0.05, 14,0.15, 16,0, 18.2,-0.55, 20.5,0, 23.3,0.5, 25.5,0.2, 27,0, 30.4,0],
  [0,0, 5,0, 10.9,-0.7, 14.5,0.5, 18.4,2.0, 21,0.5, 24,-1.8, 27,-0.3, 30,0.3, 35,0.35, 40,0.3, 44,0.1, 49.7,-0.15, 54,0, 70,0],
  [0,0, 3,0, 6.4,0.15, 10,0.05, 14,-0.2, 17.2,-0.6, 20.5,0.1, 23.6,0.7, 26.5,0, 28,-0.15, 32,-0.05, 40,0.05, 50,0.05, 70,0],
  [0,0, 8,0, 13.7,0.15, 16.5,0, 19.7,-0.25, 22.5,0, 25.7,0.2, 28.5,0, 40,0, 52,0.05, 60,0, 70,0]
];
const syn_YN_XUW = [
  [0,0, 10,0, 14,0, 16.5,0.1, 18.3,0.32, 20.5,0, 22.8,-0.45, 25,0, 26.9,0.3, 28.5,0.05, 30.4,0],
  [0,0, 10,0, 14,-0.05, 16.7,-0.55, 18.1,0.5, 19.8,1.5, 21.8,0.2, 23.9,-0.8, 25.8,-0.2, 27.5,0, 30.4,0],
  [0,0, 8,0, 12,0.05, 14.1,0.3, 16,0, 18,-0.7, 20.5,0, 23.1,0.45, 25.5,0.2, 27,0, 30.4,0],
  [0,0, 5,0, 10.9,-0.65, 14.5,0.6, 18.2,2.25, 21,0.5, 23.9,-1.65, 27,0, 30,0.2, 35,0.2, 40,0.1, 45,0, 49.7,-0.1, 54,0, 70,0],
  [0,0, 3,0, 6.4,0.15, 10,0.05, 14,-0.2, 17.2,-0.6, 20.5,0.1, 23.6,0.7, 26.5,0, 28,-0.1, 32,-0.05, 40,0.05, 70,0],
  [0,0, 8,0, 13.7,0.15, 16.5,0, 19.7,-0.15, 22.5,0, 25.7,0.15, 28.5,0, 40,0, 52,0.05, 60,0, 70,0]
];

const obs_YN_YAJ = [
  [0,0, 4,0.15, 8,0.2, 11.5,0, 14.4,-1.4, 16.5,0.2, 18.4,2.6, 20.3,0.5, 22.4,-1.8, 24.4,0, 26.4,1.8, 28,0.3, 30.4,0],
  [0,0, 5,0, 10,-0.2, 13.9,-0.5, 16,0.5, 18.2,1.65, 20.5,0.5, 22.5,0.6, 23.5,0.5, 26.1,-0.9, 27.8,0, 29,0.15, 30.4,0],
  [0,0, 5,0, 9,-0.2, 13.6,-1.5, 16,-0.8, 18,0.4, 19.5,1.3, 21.3,4.0, 23.5,1.5, 25.5,-0.3, 27,-0.2, 28.5,0.2, 30.4,0],
  [0,0, 5,0.05, 8,-0.3, 12.1,-1.1, 15,0, 18.1,1.1, 21.3,-0.1, 24,0.8, 26.9,1.85, 30,0.2, 33.7,-1.25, 37,-0.4, 40.5,0.2, 45,0.2, 50,0.1, 55,0, 70,0],
  [0,0, 3,0.05, 7.6,-0.55, 11,-0.2, 15,0.6, 19.1,1.4, 22,0.3, 25.1,-0.6, 28,-0.1, 32.5,-0.3, 36,0, 40.7,0.2, 45,0.05, 70,0],
  [0,0, 5,0, 9,-0.1, 14.5,-1.3, 18.5,0.5, 23.4,3.35, 27,1.0, 30.9,-2.3, 33.5,-0.5, 36.1,0.4, 40,0.25, 45,0.2, 50,0, 55,-0.1, 60,0, 70,0]
];
const syn_YN_YAJ = [
  [0,0, 4,0.15, 8,0.2, 11.5,0, 14.4,-1.4, 16.5,0.3, 18.4,2.6, 20.3,0.5, 22.2,-1.4, 24.2,0, 26,1.4, 28,0.3, 30.4,0],
  [0,0, 5,0, 10,-0.2, 13.9,-0.5, 16,0.5, 18.2,1.2, 20.5,0.3, 23,0, 25.7,-0.3, 27.5,0.2, 30.4,0.1],
  [0,0, 5,0, 9,-0.2, 13.6,-1.4, 16,-0.8, 18,0.5, 19.5,1.5, 21.3,4.3, 23.3,1.5, 25,-0.2, 27,-0.2, 28.5,0.2, 30.4,0],
  [0,0, 5,0.05, 8,-0.3, 12.1,-1.1, 15,0, 18.1,1.15, 21.3,0.4, 23.5,0.6, 26.5,0.9, 30,0.2, 33.3,-0.9, 37,-0.4, 40.5,0.2, 45,0.2, 50,0.1, 55,0, 70,0],
  [0,0, 3,0.05, 7.6,-0.6, 11,-0.2, 15,0.4, 19.1,0.9, 22.5,0.1, 25.1,0, 28.8,0.25, 32.5,-0.3, 36,0, 40.7,0.15, 45,0.05, 70,0],
  [0,0, 5,0, 9,-0.1, 14.5,-1.0, 18.5,0.5, 23.4,3.0, 27,1.0, 30.9,-2.1, 33.5,-0.5, 36.1,0.4, 40,0.25, 45,0.15, 50,0, 70,0]
];

const obs_YN_ZAT = [
  [0,0, 8,0, 12,-0.1, 14.4,-0.25, 16.3,0.3, 18.4,1.2, 20.3,0.3, 22.2,-0.55, 24.5,-0.15, 26,-0.1, 28,0, 30.4,0.05],
  [0,0, 8,0, 12,-0.1, 14.4,-0.3, 16.3,0.2, 18.4,0.85, 20.3,0.2, 22.4,-0.5, 24.3,-0.1, 26.1,0.2, 28,0, 30.4,0],
  [0,0, 8,0.05, 13.5,0.1, 15.5,0, 17.6,-0.5, 19.3,-0.1, 21.1,0.35, 23.5,0.1, 26,0, 30.4,0.05],
  [0,0, 4.9,0.2, 8,-0.1, 11,-0.4, 14.6,-0.85, 18.5,0.5, 22.8,1.95, 26.5,0.3, 30.3,-0.95, 34,-0.3, 38,0.1, 42,0.15, 48,0.05, 55,-0.05, 60,0, 70,0],
  [0,0, 5,0.2, 9.4,-0.1, 13,0.2, 16.1,0.45, 18.5,-0.3, 21.3,-1.35, 24,0, 27,1.2, 30,0.3, 33.3,-0.25, 37,0, 45,0.05, 55,-0.05, 70,0],
  [0,0, 6.3,0.15, 9,-0.05, 12,0.2, 17,1.1, 20.5,0.2, 24.5,-1.2, 28,-0.1, 31.6,0.6, 35,0.3, 40,0.1, 45,-0.05, 50,-0.1, 55,0, 70,0]
];
const syn_YN_ZAT = [
  [0,0, 8,0, 12,-0.1, 14.4,-0.2, 16.3,0.2, 18.4,0.85, 20.3,0.2, 22.2,-0.45, 24.5,-0.15, 26,-0.1, 28,0, 30.4,0.05],
  [0,0, 8,0, 12,-0.1, 14.4,-0.3, 16.3,0.2, 18.4,0.85, 20.3,0.2, 22.4,-0.45, 24.3,-0.1, 26.1,0.2, 28,0, 30.4,0],
  [0,0, 8,0.05, 13.5,0.1, 15.5,0, 17.6,-0.35, 19.3,-0.05, 21.1,0.25, 23.5,0.1, 26,0, 30.4,0.05],
  [0,0, 4.9,0.2, 8,-0.1, 11,-0.3, 14.6,-0.7, 18.5,0.4, 22.8,1.45, 26.5,0.2, 30,-0.7, 34,-0.2, 38,0.1, 42,0.1, 50,0, 70,0],
  [0,0, 5,0.2, 9.4,-0.1, 13,0.2, 16.1,0.4, 18.5,-0.2, 21.3,-1.05, 24,0, 27,0.95, 30,0.2, 33.3,-0.2, 37,0, 45,0.05, 70,0],
  [0,0, 6.3,0.1, 9,-0.05, 12,0.2, 17,0.95, 20.5,0.2, 24.5,-1.0, 28,0, 31.6,0.35, 35,0.25, 40,0.1, 45,0, 70,0]
];

// Time shifts printed in each panel (E, N, Z short; E, N, Z long)
const timeShifts = [
  ['-0.6','-0.8','-0.9','-1.1','-1.2','-0.6'],
  ['-1.1','0.9','-0.0','-1.0','-0.8','-1.1'],
  ['0.1','-0.6','-0.2','0.2','-0.7','0.2'],
  ['0.1','-0.1','-0.4','6.4','2.0','0.0'],
  ['-0.2','-0.0','-0.2','-2.3','-2.4','-1.2'],
  ['0.6','0.4','0.2','1.2','1.1','0.6'],
  ['-0.8','-0.2','-0.4','-1.3','-1.0','-0.6'],
  ['2.4','2.4','2.2','6.1','6.6','11.5'],
  ['-0.7','-1.0','-1.1','-1.0','-1.3','1.6'],
  ['-0.6','-0.9','-0.9','6.2','0.4','0.3'],
  ['0.2','-0.4','-0.3','-0.2','-0.4','-0.6'],
  ['0.0','-0.1','0.0','0.2','-0.0','-0.0'],
  ['-0.4','-0.4','-1.1','2.0','1.0','-1.5'],
  ['-0.5','0.1','-0.4','-1.0','-1.0','-0.5'],
  ['-0.4','-0.7','-0.9','0.4','0.5','-0.9'],
  ['0.8','1.3','1.0','0.9','1.3','1.1'],
  ['-0.1','-0.2','-0.2','0.8','0.7','0.4']
];

// Offset exponents of the amplitude axes (short block, long block)
const expShort = [-3,-2,-3,-3,-4,-3,-4,-3,-3,-3,-3,-2,-3,-4,-3,-2,-2];
const expLong  = [-2,-2,-2,-3,-3,-2,-3,-2,-2,-3,-2,-2,-2,-2,-2,-2,-2];

// Amplitude limits per row (short block, long block)
const yLimShort = [[-4.55,4.4],[-1.38,1.35],[-5.45,5.15],[-4.8,4.6],[-4.8,4.3],[-5.1,4.45],[-6.8,6.4],[-4.0,3.83],
                   [-1.95,1.84],[-4.2,4.2],[-9.6,10.0],[-1.4,1.4],[-3.57,3.57],[-6.4,6.4],[-1.63,1.63],[-4.87,4.47],[-1.36,1.32]];
const yLimLong  = [[-1.51,1.47],[-4.0,3.9],[-1.57,1.48],[-8.0,7.8],[-8.1,7.4],[-3.8,3.6],[-5.55,5.4],[-2.46,2.46],
                   [-2.2,2.1],[-9.6,9.9],[-2.8,2.9],[-2.0,2.1],[-1.94,2.0],[-1.04,1.03],[-2.36,2.55],[-3.55,3.45],[-2.06,2.0]];

// Amplitude tick values per row (short block, long block)
const yTicksShort = [[-2.5,0,2.5],[-1,0,1],[-5,0,5],[-2.5,0,2.5],[-2.5,0,2.5],[-2.5,0,2.5],[-5,0,5],[-2.5,0,2.5],
                     [-1,0,1],[-2.5,0,2.5],[-5,0,5],[-1,0,1],[-2.5,0,2.5],[-5,0,5],[-1,0,1],[-2.5,0,2.5],[-1,0,1]];
const yTicksLong  = [[-1,0,1],[-2.5,0,2.5],[-1,0,1],[-5,0,5],[-5,0,5],[-2.5,0,2.5],[-5,0,5],[-2,0,2],
                     [-2,0,2],[-5,0,5],[-2.5,0,2.5],[-2,0,2],[-1,0,1],[-1,0,1],[-2,0,2],[-2.5,0,2.5],[-2,0,2]];

const xTicksShort = [0, 10, 20];
const xTicksLong = [0, 20, 40, 60];
const xLimShort = [0, 30.4];
const xLimLong = [0, 70];

// Panels outlined in red: [row, column]
const flaggedPanels = [[3,3],[7,5],[9,3]];

const observed = [obs_CQ_CQT, obs_CQ_ROC, obs_CQ_WAS, obs_GZ_BJT, obs_GZ_LDT, obs_GZ_WNT, obs_GZ_ZFT, obs_GZ_ZYT,
                  obs_SC_EMS, obs_SC_HMS, obs_SC_MBI, obs_SC_MGU, obs_YN_DOC, obs_GZ_GYA, obs_YN_XUW, obs_YN_YAJ, obs_YN_ZAT];
const synthetic = [syn_CQ_CQT, syn_CQ_ROC, syn_CQ_WAS, syn_GZ_BJT, syn_GZ_LDT, syn_GZ_WNT, syn_GZ_ZFT, syn_GZ_ZYT,
                   syn_SC_EMS, syn_SC_HMS, syn_SC_MBI, syn_SC_MGU, syn_YN_DOC, syn_GZ_GYA, syn_YN_XUW, syn_YN_YAJ, syn_YN_ZAT];

// ---- page geometry (pixels) ----
const W = 1118, H = 1315;
const colPx = [[122.7,211.7],[216,305],[310,399],[466.8,679.5],[685,898],[903.6,1116.5]];
const rowTop0 = 29.3, rowStep = 74.25, rowH = 46.8;
const FONT = 'DejaVu Sans, sans-serif';
const TXT = '#111';
const FS = 13.5;       // label text size
const FS_TICK = 12;    // tick label size

function unflat(a) {
  const x = [], y = [];
  for (let i = 0; i < a.length; i += 2) { x.push(a[i]); y.push(a[i + 1]); }
  return {x, y};
}
function tickLabel(v, ticks) {
  const dec = ticks.some(t => Math.round(t) !== t);
  const s = dec ? Math.abs(v).toFixed(1) : String(Math.abs(v));
  return (v < 0 ? '\u2212' : '') + s;
}
function isFlagged(r, c) { return flaggedPanels.some(p => p[0] === r && p[1] === c); }

const traces = [];
const layout = {
  width: W, height: H,
  margin: {l: 0, r: 0, t: 0, b: 0},
  paper_bgcolor: '#fff', plot_bgcolor: '#fff',
  showlegend: false,
  font: {family: FONT, size: FS_TICK, color: TXT},
  annotations: []
};

for (let r = 0; r < stations.length; r++) {
  const top = rowTop0 + rowStep * r;
  const bot = top + rowH;
  for (let c = 0; c < 6; c++) {
    const n = r * 6 + c + 1;
    const xa = n === 1 ? 'xaxis' : 'xaxis' + n;
    const ya = n === 1 ? 'yaxis' : 'yaxis' + n;
    const xr = n === 1 ? 'x' : 'x' + n;
    const yr = n === 1 ? 'y' : 'y' + n;
    const longWin = c >= 3;
    const flagged = isFlagged(r, c);
    const frame = flagged ? '#ff0000' : '#000';
    const lastRow = r === stations.length - 1;
    const firstCol = c === 0 || c === 3;
    const yTicks = longWin ? yTicksLong[r] : yTicksShort[r];

    layout[xa] = {
      domain: [colPx[c][0] / W, colPx[c][1] / W],
      range: longWin ? xLimLong : xLimShort,
      anchor: yr,
      showline: true, mirror: true, linecolor: frame, linewidth: flagged ? 2 : 1.5,
      ticks: 'outside', ticklen: 4.5, tickwidth: 1.2, tickcolor: '#000',
      tickmode: 'array', tickvals: longWin ? xTicksLong : xTicksShort,
      showticklabels: lastRow, ticklabelstandoff: 4,
      tickfont: {family: FONT, size: 13, color: TXT},
      showgrid: false, zeroline: false, fixedrange: true,
      title: lastRow ? {text: 'Time (s)', font: {family: FONT, size: FS, color: TXT}, standoff: 9} : {text: ''}
    };
    layout[ya] = {
      domain: [1 - bot / H, 1 - top / H],
      range: longWin ? yLimLong[r] : yLimShort[r],
      anchor: xr,
      showline: true, mirror: true, linecolor: frame, linewidth: flagged ? 2 : 1.5,
      ticks: firstCol ? 'outside' : '', ticklen: 4.5, tickwidth: 1.2, tickcolor: '#000',
      tickmode: 'array', tickvals: yTicks, ticktext: yTicks.map(v => tickLabel(v, yTicks)),
      showticklabels: firstCol,
      tickfont: {family: FONT, size: FS_TICK, color: TXT},
      showgrid: false, zeroline: false, fixedrange: true
    };

    const o = unflat(observed[r][c]);
    const s = unflat(synthetic[r][c]);
    traces.push({x: o.x, y: o.y, xaxis: xr, yaxis: yr, type: 'scatter', mode: 'lines',
                 line: {color: '#ff0000', width: 2.3, shape: 'spline', smoothing: 1}, hoverinfo: 'skip'});
    traces.push({x: s.x, y: s.y, xaxis: xr, yaxis: yr, type: 'scatter', mode: 'lines',
                 line: {color: '#0000ff', width: 2.3, shape: 'spline', smoothing: 1}, hoverinfo: 'skip'});

    // time-shift label, bottom-left inside the panel
    layout.annotations.push({
      xref: 'paper', yref: 'paper', x: (colPx[c][0] + 0.5) / W, y: 1 - (bot - 0.5) / H,
      xanchor: 'left', yanchor: 'bottom', showarrow: false, borderpad: 0,
      text: '\u0394<i>t</i>=' + timeShifts[r][c],
      font: {family: FONT, size: FS, color: TXT}
    });
  }

  // station name
  layout.annotations.push({
    xref: 'paper', yref: 'paper', x: 37 / W, y: 1 - (top + rowH / 2) / H,
    xanchor: 'center', yanchor: 'middle', showarrow: false,
    text: stations[r], font: {family: FONT, size: FS, color: TXT}
  });
  // offset labels above the first panel of each block
  [[0, expShort[r]], [3, expLong[r]]].forEach(([c, e]) => {
    layout.annotations.push({
      xref: 'paper', yref: 'paper', x: colPx[c][0] / W, y: 1 - (top - 10.5) / H,
      xanchor: 'left', yanchor: 'middle', showarrow: false,
      text: '1e\u2212' + Math.abs(e), font: {family: FONT, size: FS, color: TXT}
    });
  });
}

// component headers
for (let c = 0; c < 6; c++) {
  layout.annotations.push({
    xref: 'paper', yref: 'paper', x: (colPx[c][0] + colPx[c][1]) / 2 / W, y: 1 - 11.5 / H,
    xanchor: 'center', yanchor: 'middle', showarrow: false,
    text: components[c % 3], font: {family: FONT, size: FS, color: TXT}
  });
}

Plotly.newPlot('fig', traces, layout, {staticPlot: true, displayModeBar: false});
</script>
</body>
</html>
